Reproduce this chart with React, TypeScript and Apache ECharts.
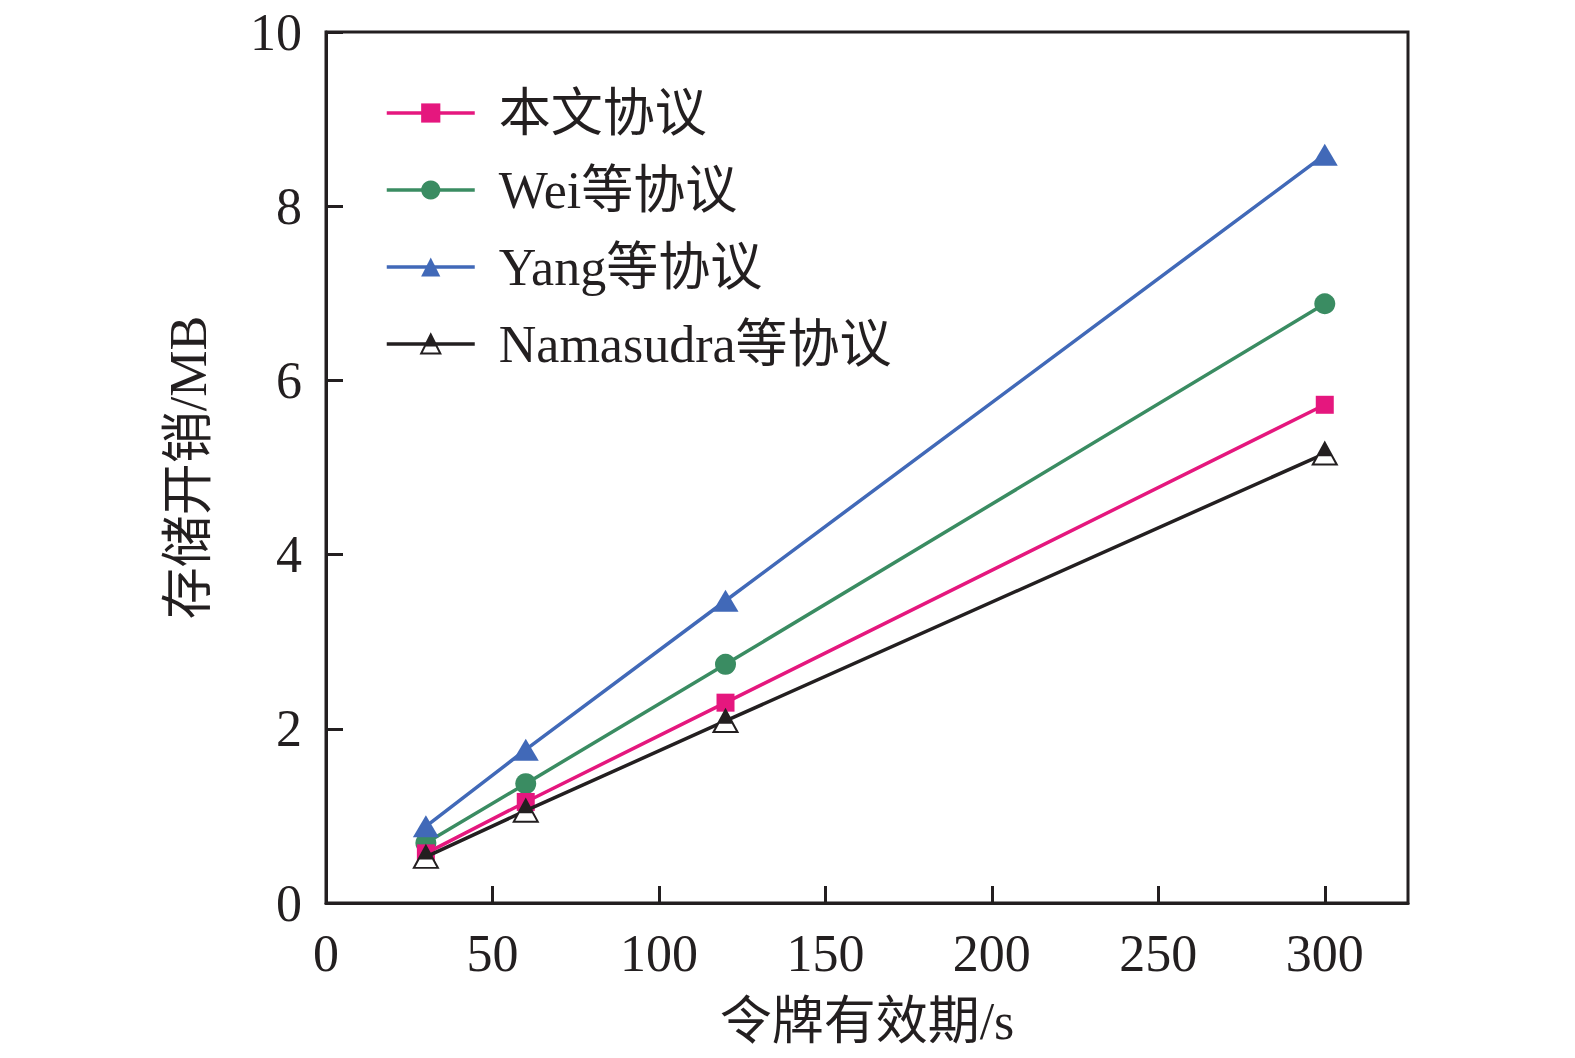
import React, { useEffect, useRef } from "react";
import * as echarts from "echarts";

const xValues = [30, 60, 120, 300];
const seriesNames = ["本文协议", "Wei等协议", "Yang等协议", "Namasudra等协议"];
const oursData = [0.57, 1.16, 2.3, 5.72];
const weiData = [0.69, 1.37, 2.74, 6.88];
const yangData = [0.88, 1.76, 3.47, 8.59];
const namasudraData = [0.53, 1.06, 2.09, 5.16];
const xTicks = [0, 50, 100, 150, 200, 250, 300];
const yTicks = [0, 2, 4, 6, 8, 10];

const FONT = "'Liberation Serif', 'Noto Sans CJK SC', serif";

// Triangle whose upper part is solid and lower part white with outline (hatched top)
const halfTri = (() => {
  let d = "path://M50 0 L100 90 L0 90 Z";
  for (let y = 4; y <= 52; y += 4) {
    const hw = (50 * y) / 90;
    d += ` M${(50 - hw).toFixed(1)} ${y} L${(50 + hw).toFixed(1)} ${y}`;
  }
  return d;
})();

const pair = (ys: number[]) => xValues.map((x, i) => [x, ys[i]]);

export default function App() {
  const ref = useRef<HTMLDivElement>(null);
  useEffect(() => {
    if (!ref.current) return;
    const chart = echarts.init(ref.current, undefined, { renderer: "svg" });
    const black = "#231F20";
    const LW = 3.5;
    chart.setOption({
      animation: false,
      backgroundColor: "#fff",
      textStyle: { fontFamily: FONT },
      grid: {
        left: 326,
        right: 167,
        top: 32,
        bottom: 155,
        show: true,
        borderColor: black,
        borderWidth: 3,
      },
      legend: {
        orient: "vertical",
        left: 385,
        top: 85,
        padding: 0,
        itemWidth: 88,
        itemHeight: 24,
        itemGap: 21,
        data: seriesNames,
        lineStyle: { width: 3.5 },
        textStyle: {
          fontFamily: FONT,
          fontSize: 52,
          lineHeight: 56,
          color: black,
          padding: [0, 0, 0, 19],
        },
      },
      xAxis: {
        type: "value",
        min: 0,
        max: 325,
        interval: 50,
        name: "令牌有效期/s",
        nameLocation: "middle",
        nameGap: 92,
        nameTextStyle: { fontFamily: FONT, fontSize: 52, color: black },
        axisLine: { show: true, lineStyle: { color: black, width: 3 } },
        axisTick: { show: true, inside: true, length: 17, lineStyle: { color: black, width: 3 } },
        axisLabel: {
          fontFamily: FONT,
          fontSize: 52,
          color: black,
          margin: 24,
          showMaxLabel: false,
          formatter: (v: number) => (xTicks.includes(v) ? String(v) : ""),
        },
        splitLine: { show: false },
      },
      yAxis: {
        type: "value",
        min: 0,
        max: 10,
        interval: 2,
        name: "存储开销/MB",
        nameLocation: "middle",
        nameGap: 112,
        nameTextStyle: { fontFamily: FONT, fontSize: 52, color: black },
        axisLine: { show: true, lineStyle: { color: black, width: 3 } },
        axisTick: { show: true, inside: true, length: 17, lineStyle: { color: black, width: 3 } },
        axisLabel: {
          fontFamily: FONT,
          fontSize: 52,
          color: black,
          margin: 24,
          formatter: (v: number) => (yTicks.includes(v) ? String(v) : ""),
        },
        splitLine: { show: false },
      },
      series: [
        {
          name: seriesNames[0],
          type: "line",
          data: pair(oursData),
          symbol: "rect",
          symbolSize: 18,
          z: 3,
          lineStyle: { color: "#E5177E", width: LW },
          itemStyle: { color: "#E5177E" },
        },
        {
          name: seriesNames[1],
          type: "line",
          data: pair(weiData),
          symbol: "circle",
          symbolSize: 21,
          z: 2,
          lineStyle: { color: "#3A8C62", width: LW },
          itemStyle: { color: "#3A8C62" },
        },
        {
          name: seriesNames[2],
          type: "line",
          data: pair(yangData),
          symbol: "triangle",
          symbolSize: [26, 22],
          z: 2,
          lineStyle: { color: "#4169B8", width: LW },
          itemStyle: { color: "#4169B8" },
        },
        {
          name: seriesNames[3],
          type: "line",
          data: pair(namasudraData),
          symbol: halfTri,
          symbolSize: [24, 22],
          symbolKeepAspect: false,
          z: 4,
          lineStyle: { color: black, width: LW },
          itemStyle: { color: "#ffffff", borderColor: black, borderWidth: 2 },
        },
      ],
    });
    return () => chart.dispose();
  }, []);
  return (
    <div
      ref={ref}
      style={{ position: "absolute", left: 0, top: 0, width: 1575, height: 1058 }}
    />
  );
}
